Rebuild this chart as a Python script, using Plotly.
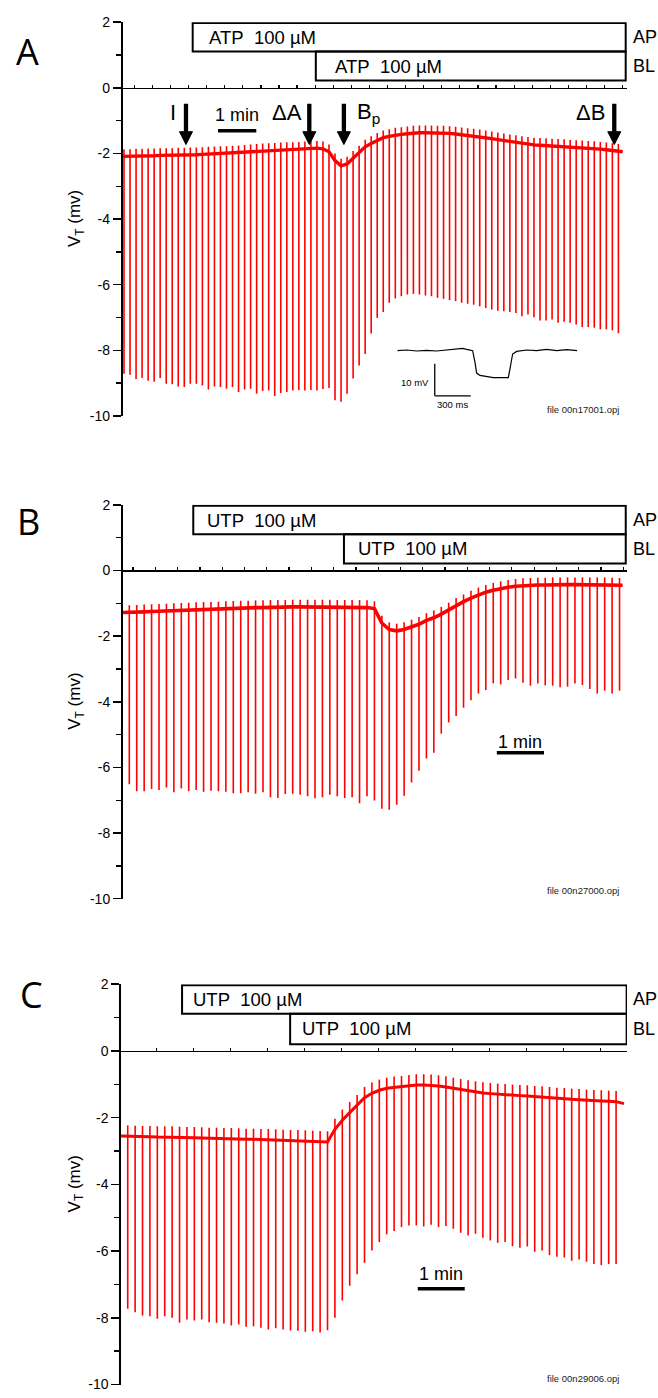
import plotly.graph_objects as go

# ======================= DATA =======================
PULSE_INTERVAL_S = 9.45          # current pulses, one every ~9.45 s

# ---- Panel A (ATP) ----
A_FIRST_PULSE_S = 2.35
A_BASELINE = [-2.09, -2.09, -2.08, -2.08, -2.07, -2.07, -2.06, -2.06, -2.06, -2.05,
              -2.05, -2.04, -2.04, -2.03, -2.02, -2.01, -2.00, -2.00, -1.99, -1.98,
              -1.96, -1.95, -1.93, -1.92, -1.91, -1.90, -1.89, -1.88, -1.88, -1.87,
              -1.86, -1.85, -1.84, -1.86, -1.95, -2.22, -2.38, -2.32, -2.15, -1.99,
              -1.80, -1.70, -1.60, -1.52, -1.48, -1.44, -1.42, -1.40, -1.38, -1.37,
              -1.37, -1.37, -1.38, -1.38, -1.39, -1.41, -1.43, -1.45, -1.47, -1.49,
              -1.52, -1.55, -1.58, -1.61, -1.64, -1.67, -1.70, -1.72, -1.74, -1.75,
              -1.76, -1.77, -1.78, -1.79, -1.81, -1.82, -1.83, -1.84, -1.85, -1.87,
              -1.89, -1.91, -1.93]
A_PULSE_MIN = [-8.71, -8.74, -8.87, -8.84, -8.93, -8.96, -8.84, -9.02, -9.03, -9.10,
               -9.12, -9.02, -9.02, -9.07, -9.19, -9.10, -9.12, -9.17, -9.12, -9.27,
               -9.19, -9.17, -9.32, -9.24, -9.22, -9.39, -9.30, -9.27, -9.22, -9.21,
               -9.22, -9.21, -9.22, -9.18, -9.15, -9.52, -9.57, -9.32, -8.86, -8.46,
               -8.11, -7.49, -7.01, -6.83, -6.55, -6.42, -6.35, -6.30, -6.28, -6.30,
               -6.33, -6.35, -6.40, -6.43, -6.47, -6.50, -6.55, -6.58, -6.61, -6.66,
               -6.71, -6.76, -6.79, -6.81, -6.83, -6.86, -6.96, -6.91, -6.99, -7.09,
               -7.09, -7.06, -7.16, -7.13, -7.16, -7.21, -7.29, -7.29, -7.31, -7.36,
               -7.36, -7.39, -7.48]
A_END_S, A_END_MV = 784.0, -1.95
A_OVERSHOOT = 0.22
A_DRUG = "ATP\u00a0 100 µM"
A_AP_START_S, A_BL_START_S, A_DRUG_END_S = 110.0, 303.0, 788.7
A_EVENT_S = [99.5, 292.8, 347.0, 770.8]
A_EVENT_LABELS = ["I", "ΔA", "B<sub>p</sub>", "ΔB"]
A_SCALEBAR_START_S = 149.7
A_FILE = "file 00n17001.opj"

# ---- Panel B (UTP) ----
B_FIRST_PULSE_S = 8.4
B_BASELINE = [-1.28, -1.27, -1.26, -1.25, -1.24, -1.23, -1.22, -1.21, -1.20, -1.19,
              -1.18, -1.18, -1.17, -1.16, -1.15, -1.14, -1.14, -1.13, -1.13, -1.12,
              -1.12, -1.12, -1.11, -1.11, -1.11, -1.11, -1.11, -1.11, -1.12, -1.12,
              -1.12, -1.12, -1.13, -1.16, -1.60, -1.80, -1.84, -1.80, -1.72, -1.64,
              -1.52, -1.44, -1.33, -1.20, -1.06, -0.95, -0.84, -0.74, -0.66, -0.60,
              -0.55, -0.51, -0.48, -0.46, -0.45, -0.44, -0.44, -0.43, -0.43, -0.43,
              -0.43, -0.43, -0.43, -0.43, -0.43, -0.44, -0.45]
B_PULSE_MIN = [-6.51, -6.73, -6.73, -6.66, -6.69, -6.61, -6.76, -6.64, -6.73, -6.69,
               -6.74, -6.71, -6.73, -6.74, -6.79, -6.79, -6.76, -6.80, -6.76, -6.91,
               -6.93, -6.81, -6.80, -6.83, -6.88, -6.94, -6.91, -6.83, -6.88, -6.93,
               -6.91, -7.09, -6.88, -7.01, -7.26, -7.29, -7.14, -6.86, -6.46, -6.10,
               -5.73, -5.55, -4.97, -4.63, -4.43, -4.18, -3.95, -3.75, -3.64, -3.44,
               -3.47, -3.34, -3.29, -3.42, -3.51, -3.44, -3.50, -3.51, -3.56, -3.54,
               -3.44, -3.49, -3.61, -3.75, -3.66, -3.75, -3.66]
B_END_S, B_END_MV = 636.0, -0.45
B_OVERSHOOT = 0.22
B_DRUG = "UTP\u00a0 100 µM"
B_AP_START_S, B_BL_START_S, B_DRUG_END_S = 89.8, 281.5, 640.0
B_SCALEBAR_START_S = 476.0
B_FILE = "file 00n27000.opj"

# ---- Panel C (UTP) ----
C_FIRST_PULSE_S = 8.6
C_BASELINE = [-2.55, -2.56, -2.57, -2.57, -2.58, -2.58, -2.58, -2.59, -2.60, -2.60,
              -2.61, -2.62, -2.62, -2.63, -2.63, -2.64, -2.65, -2.65, -2.66, -2.66,
              -2.67, -2.68, -2.69, -2.69, -2.70, -2.71, -2.72, -2.73,
              -2.35, -2.08, -1.85, -1.64, -1.40, -1.27, -1.18, -1.12, -1.09, -1.07,
              -1.04, -1.02, -1.02, -1.03, -1.05, -1.08, -1.12, -1.16, -1.20, -1.23,
              -1.26, -1.28, -1.30, -1.31, -1.33, -1.34, -1.35, -1.37, -1.38, -1.40,
              -1.42, -1.43, -1.45, -1.46, -1.48, -1.49, -1.50, -1.51, -1.52]
C_PULSE_MIN = [-7.73, -7.83, -7.93, -7.95, -8.03, -7.95, -8.00, -8.15, -8.05, -8.08,
               -8.05, -8.13, -8.15, -8.17, -8.23, -8.20, -8.27, -8.25, -8.30, -8.35,
               -8.31, -8.35, -8.38, -8.39, -8.42, -8.40, -8.44, -8.37, -8.00, -7.48,
               -7.04, -6.69, -6.35, -5.98, -5.73, -5.50, -5.40, -5.28, -5.23, -5.23,
               -5.26, -5.21, -5.28, -5.25, -5.33, -5.45, -5.53, -5.48, -5.60, -5.68,
               -5.75, -5.73, -5.85, -5.90, -5.86, -6.02, -5.98, -6.12, -6.17, -6.19,
               -6.29, -6.25, -6.32, -6.39, -6.42, -6.39, -6.39]
C_END_S, C_END_MV = 642.4, -1.58
C_OVERSHOOT = 0.32
C_DRUG = "UTP\u00a0 100 µM"
C_AP_START_S, C_BL_START_S, C_DRUG_END_S = 78.0, 216.0, 645.8
C_SCALEBAR_START_S = 379.0
C_FILE = "file 00n29006.opj"

# ---- inset (single pulse, panel A) ----
INSET_T_MS = [0, 77.8, 161.1, 244.4, 327.8, 411.1, 494.4, 544.4, 577.8, 627.8, 647.2,
              661.1, 688.9, 744.4, 800, 855.6, 925, 938.9, 961.1, 994.4, 1077.8,
              1161.1, 1244.4, 1327.8, 1411.1, 1500]
INSET_MV = [0, 0.21, -0.1, 0.1, -0.1, 0.21, 0.31, 0.72, 0.41, 0, -3.6, -7.0, -7.73,
            -8.04, -8.45, -8.45, -8.45, -5.67, -1.03, -0.21, 0.21, 0, 0.41, 0, 0.31, 0]
INSET_BAR_T0_MS, INSET_BAR_V0_MV = 312.0, -14.12
INSET_BAR_MS, INSET_BAR_MV = 300, 10

SCALEBAR_S = 60
Y_TICK_VALUES = [-10, -8, -6, -4, -2, 0, 2]
Y_TICK_LABELS = ["-10", "-8", "-6", "-4", "-2", "0", "2"]
Y_MINOR_VALUES = [-9, -7, -5, -3, -1, 1]
Y_RANGE = [-10, 2]

# ======================= GEOMETRY / STYLE =======================
W, H = 658, 1398
RED = "#ff0000"
FONT = "Liberation Sans, Arial, Helvetica, sans-serif"


def fx(p):
    return p / W


def fy(p):
    return 1 - p / H


panels = [
    dict(letter="A", first=A_FIRST_PULSE_S, base=A_BASELINE, mins=A_PULSE_MIN,
         end_s=A_END_S, end_mv=A_END_MV, over=A_OVERSHOOT, drug=A_DRUG,
         ap=A_AP_START_S, bl=A_BL_START_S, dend=A_DRUG_END_S,
         bar_s=A_SCALEBAR_START_S, file=A_FILE,
         ax_px=122.5, right_px=627.0, top_px=14.3, bot_px=412.7, pps=0.638,
         tick0=18.5, dtick=3 * PULSE_INTERVAL_S, lw=3.4,
         ap_box=(1.105, 1.97), bl_box=(0.22, 1.105), ap_pad=14, bl_pad=17,
         bar_y=-1.31, bar_txt_y=-0.82, letter_px=(27, 44), file_px=406),
    dict(letter="B", first=B_FIRST_PULSE_S, base=B_BASELINE, mins=B_PULSE_MIN,
         end_s=B_END_S, end_mv=B_END_MV, over=B_OVERSHOOT, drug=B_DRUG,
         ap=B_AP_START_S, bl=B_BL_START_S, dend=B_DRUG_END_S,
         bar_s=B_SCALEBAR_START_S, file=B_FILE,
         ax_px=122.7, right_px=627.0, top_px=502.6, bot_px=901.0, pps=0.786,
         tick0=13.2, dtick=3 * PULSE_INTERVAL_S, lw=3.6,
         ap_box=(1.105, 1.97), bl_box=(0.21, 1.105), ap_pad=12, bl_pad=12,
         bar_y=-5.55, bar_txt_y=-5.24, letter_px=(28, 519), file_px=893),
    dict(letter="C", first=C_FIRST_PULSE_S, base=C_BASELINE, mins=C_PULSE_MIN,
         end_s=C_END_S, end_mv=C_END_MV, over=C_OVERSHOOT, drug=C_DRUG,
         ap=C_AP_START_S, bl=C_BL_START_S, dend=C_DRUG_END_S,
         bar_s=C_SCALEBAR_START_S, file=C_FILE,
         ax_px=121.0, right_px=627.0, top_px=987.5, bot_px=1392.5, pps=0.783,
         tick0=45.6, dtick=5 * PULSE_INTERVAL_S, lw=3.0,
         ap_box=(1.117, 1.97), bl_box=(0.20, 1.117), ap_pad=9, bl_pad=10,
         bar_y=-7.13, bar_txt_y=-6.70, letter_px=(31, 998), file_px=1386),
]

fig = go.Figure()
layout = dict(width=W, height=H, margin=dict(l=0, r=0, t=0, b=0),
              paper_bgcolor="white", plot_bgcolor="white", showlegend=False,
              font=dict(family=FONT, color="black"))
shapes, annotations = [], []

for i, p in enumerate(panels, start=1):
    xa = "x" if i == 1 else f"x{i}"
    ya = "y" if i == 1 else f"y{i}"
    xkey = "xaxis" if i == 1 else f"xaxis{i}"
    ykey = "yaxis" if i == 1 else f"yaxis{i}"

    times = [p["first"] + PULSE_INTERVAL_S * k for k in range(len(p["base"]))]

    # baseline (noisy band approximated by a thick line)
    bx = [0.0] + times + [p["end_s"]]
    by = [p["base"][0]] + p["base"] + [p["end_mv"]]
    fig.add_trace(go.Scatter(x=bx, y=by, mode="lines", xaxis=xa, yaxis=ya,
                             line=dict(color=RED, width=p["lw"]), hoverinfo="skip"))
    # current pulses
    sx, sy = [], []
    for t, b, m in zip(times, p["base"], p["mins"]):
        sx += [t, t, None]
        sy += [b + p["over"], m, None]
    fig.add_trace(go.Scatter(x=sx, y=sy, mode="lines", xaxis=xa, yaxis=ya,
                             line=dict(color=RED, width=1.6), hoverinfo="skip"))

    ydom = [fy(p["bot_px"]), fy(p["top_px"])]
    xdom = [fx(p["ax_px"]), fx(p["right_px"])]
    xrange_ = [0, (p["right_px"] - p["ax_px"]) / p["pps"]]
    zero_pos = ydom[0] + (0 - Y_RANGE[0]) / (Y_RANGE[1] - Y_RANGE[0]) * (ydom[1] - ydom[0])
    p["ppmv"] = (p["bot_px"] - p["top_px"]) / (Y_RANGE[1] - Y_RANGE[0])

    layout[xkey] = dict(domain=xdom, range=xrange_, anchor="free", position=zero_pos,
                        showline=True, linecolor="black", linewidth=1.5,
                        ticks="inside", ticklen=3, tickwidth=1.2, tickcolor="black",
                        tickmode="linear", tick0=p["tick0"], dtick=p["dtick"],
                        showticklabels=False, showgrid=False, zeroline=False,
                        fixedrange=True)
    layout[ykey] = dict(domain=ydom, range=Y_RANGE, anchor=xa,
                        showline=True, linecolor="black", linewidth=1.7,
                        ticks="outside", ticklen=8, tickwidth=1.6, tickcolor="black",
                        tickmode="array", tickvals=Y_TICK_VALUES, ticktext=Y_TICK_LABELS,
                        tickfont=dict(size=14, family=FONT, color="black"),
                        minor=dict(tickmode="array", tickvals=Y_MINOR_VALUES,
                                   ticks="outside", ticklen=5, tickwidth=1.4,
                                   tickcolor="black"),
                        showgrid=False, zeroline=False, fixedrange=True)

    # treatment boxes (apical / basolateral)
    for (x0, (y0, y1), pad, side) in [(p["ap"], p["ap_box"], p["ap_pad"], "AP"),
                                       (p["bl"], p["bl_box"], p["bl_pad"], "BL")]:
        shapes.append(dict(type="rect", xref=xa, yref=ya, x0=x0, x1=p["dend"],
                           y0=y0, y1=y1, line=dict(color="black", width=2),
                           fillcolor="rgba(0,0,0,0)", layer="above"))
        annotations.append(dict(xref=xa, yref=ya, x=x0, y=(y0 + y1) / 2, text=p["drug"],
                                showarrow=False, xanchor="left", yanchor="middle",
                                xshift=pad, font=dict(size=18.5, family=FONT)))
        annotations.append(dict(xref="paper", yref=ya, x=fx(631), y=(y0 + y1) / 2,
                                text=side, showarrow=False, xanchor="left",
                                yanchor="middle", font=dict(size=18, family=FONT)))

    # 1 min scale bar
    shapes.append(dict(type="line", xref=xa, yref=ya, x0=p["bar_s"],
                       x1=p["bar_s"] + SCALEBAR_S, y0=p["bar_y"], y1=p["bar_y"],
                       line=dict(color="black", width=3.5), layer="above"))
    annotations.append(dict(xref=xa, yref=ya, x=p["bar_s"] + SCALEBAR_S / 2,
                            y=p["bar_txt_y"], text="1 min", showarrow=False,
                            xanchor="center", yanchor="middle",
                            font=dict(size=18, family=FONT)))

    # panel letter
    annotations.append(dict(xref="paper", yref="paper", x=fx(p["letter_px"][0]),
                            y=fy(p["letter_px"][1]), text=p["letter"], showarrow=False,
                            xanchor="center", yanchor="middle",
                            font=dict(size=36, family="Open Sans, sans-serif")))
    # y title
    annotations.append(dict(xref="paper", yref="paper", x=fx(76),
                            y=(ydom[0] + ydom[1]) / 2, text="V<sub>T</sub> (mv)",
                            textangle=-90, showarrow=False, xanchor="center",
                            yanchor="middle", font=dict(size=17, family=FONT)))
    # file name
    annotations.append(dict(xref="paper", yref="paper", x=fx(621), y=fy(p["file_px"]),
                            text=p["file"], showarrow=False, xanchor="right",
                            yanchor="middle", font=dict(size=9.5, family=FONT,
                                                        color="#222")))

# ---- event arrows in panel A (shaft + filled head) ----
pA = panels[0]
ARROW_TIP_MV, ARROW_TAIL_MV = -1.73, -0.49
HEAD_W_PX, HEAD_L_PX = 13.0, 13.0
head_half_s = HEAD_W_PX / 2 / pA["pps"]
head_len_mv = HEAD_L_PX / pA["ppmv"]
label_style = [("right", -8), ("right", -5), ("left", 11), ("right", -7)]
for t, lab, (anc, sh) in zip(A_EVENT_S, A_EVENT_LABELS, label_style):
    hb = ARROW_TIP_MV + head_len_mv
    shapes.append(dict(type="line", xref="x", yref="y", x0=t, x1=t, y0=ARROW_TAIL_MV,
                       y1=hb - 0.05, line=dict(color="black", width=4.3), layer="above"))
    shapes.append(dict(type="path", xref="x", yref="y",
                       path=f"M {t - head_half_s},{hb} L {t + head_half_s},{hb} "
                            f"L {t},{ARROW_TIP_MV} Z",
                       fillcolor="black", line=dict(color="black", width=1),
                       layer="above"))
    annotations.append(dict(xref="x", yref="y", x=t, y=-0.76, text=lab,
                            showarrow=False, xanchor=anc, yanchor="middle", xshift=sh,
                            font=dict(size=22, family=FONT)))

# ---- inset: single pulse response ----
fig.add_trace(go.Scatter(x=INSET_T_MS, y=INSET_MV, mode="lines", xaxis="x4", yaxis="y4",
                         line=dict(color="black", width=1.2), hoverinfo="skip"))
layout["xaxis4"] = dict(domain=[fx(397.3), fx(577.3)], range=[0, 1500], anchor="y4",
                        visible=False, fixedrange=True)
layout["yaxis4"] = dict(domain=[fy(400), fy(335)], range=[-16.5, 3.61], anchor="x4",
                        visible=False, fixedrange=True)
shapes.append(dict(type="line", xref="x4", yref="y4", x0=INSET_BAR_T0_MS,
                   x1=INSET_BAR_T0_MS, y0=INSET_BAR_V0_MV,
                   y1=INSET_BAR_V0_MV + INSET_BAR_MV, line=dict(color="black", width=1.3)))
shapes.append(dict(type="line", xref="x4", yref="y4", x0=INSET_BAR_T0_MS,
                   x1=INSET_BAR_T0_MS + INSET_BAR_MS, y0=INSET_BAR_V0_MV,
                   y1=INSET_BAR_V0_MV, line=dict(color="black", width=1.3)))
annotations.append(dict(xref="x4", yref="y4", x=INSET_BAR_T0_MS,
                        y=INSET_BAR_V0_MV + INSET_BAR_MV * 0.41, text="10 mV",
                        showarrow=False, xanchor="right", yanchor="middle", xshift=-4,
                        font=dict(size=9.5, family=FONT)))
annotations.append(dict(xref="x4", yref="y4", x=INSET_BAR_T0_MS + INSET_BAR_MS / 2,
                        y=INSET_BAR_V0_MV, text="300 ms", showarrow=False,
                        xanchor="center", yanchor="top", yshift=-1,
                        font=dict(size=9.5, family=FONT)))

layout["shapes"] = shapes
layout["annotations"] = annotations
fig.update_layout(**layout)
fig.write_html("out.html",
               config={"displayModeBar": False, "staticPlot": True},
               post_script="document.documentElement.style.margin='0';"
                           "document.body.style.margin='0';"
                           "document.body.style.padding='0';"
                           "document.body.style.overflow='hidden';")
